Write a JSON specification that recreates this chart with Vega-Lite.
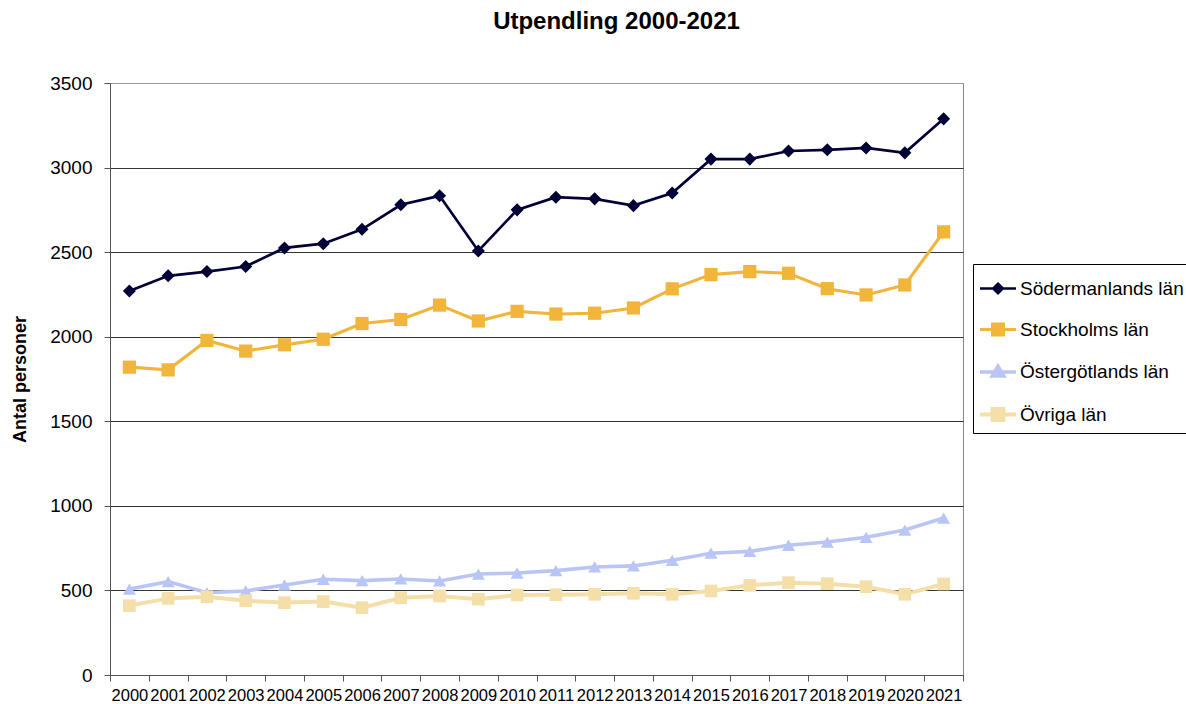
{
  "$schema": "https://vega.github.io/schema/vega-lite/v6.json",
  "width": 853,
  "height": 592,
  "autosize": {"type": "none"},
  "padding": {"left": 110, "top": 83, "right": 223, "bottom": 29},
  "background": "white",
  "config": {
    "font": "Liberation Sans",
    "view": {"stroke": "#888888", "strokeWidth": 1}
  },
  "title": {
    "text": "Utpendling 2000-2021",
    "fontSize": 24,
    "fontWeight": "bold",
    "font": "Liberation Sans",
    "color": "#000000",
    "anchor": "middle",
    "frame": "group",
    "baseline": "alphabetic",
    "offset": 21,
    "dx": 80
  },
  "data": {
    "values": [
      {"year": "2000", "series": "Södermanlands län", "value": 2270},
      {"year": "2001", "series": "Södermanlands län", "value": 2360},
      {"year": "2002", "series": "Södermanlands län", "value": 2385},
      {"year": "2003", "series": "Södermanlands län", "value": 2415},
      {"year": "2004", "series": "Södermanlands län", "value": 2525},
      {"year": "2005", "series": "Södermanlands län", "value": 2550},
      {"year": "2006", "series": "Södermanlands län", "value": 2635},
      {"year": "2007", "series": "Södermanlands län", "value": 2780},
      {"year": "2008", "series": "Södermanlands län", "value": 2833},
      {"year": "2009", "series": "Södermanlands län", "value": 2507},
      {"year": "2010", "series": "Södermanlands län", "value": 2750},
      {"year": "2011", "series": "Södermanlands län", "value": 2825},
      {"year": "2012", "series": "Södermanlands län", "value": 2815},
      {"year": "2013", "series": "Södermanlands län", "value": 2775},
      {"year": "2014", "series": "Södermanlands län", "value": 2850},
      {"year": "2015", "series": "Södermanlands län", "value": 3050},
      {"year": "2016", "series": "Södermanlands län", "value": 3050},
      {"year": "2017", "series": "Södermanlands län", "value": 3098},
      {"year": "2018", "series": "Södermanlands län", "value": 3105},
      {"year": "2019", "series": "Södermanlands län", "value": 3116},
      {"year": "2020", "series": "Södermanlands län", "value": 3087},
      {"year": "2021", "series": "Södermanlands län", "value": 3288},
      {"year": "2000", "series": "Stockholms län", "value": 1820},
      {"year": "2001", "series": "Stockholms län", "value": 1804},
      {"year": "2002", "series": "Stockholms län", "value": 1978},
      {"year": "2003", "series": "Stockholms län", "value": 1915},
      {"year": "2004", "series": "Stockholms län", "value": 1952},
      {"year": "2005", "series": "Stockholms län", "value": 1985},
      {"year": "2006", "series": "Stockholms län", "value": 2078},
      {"year": "2007", "series": "Stockholms län", "value": 2102},
      {"year": "2008", "series": "Stockholms län", "value": 2187},
      {"year": "2009", "series": "Stockholms län", "value": 2093},
      {"year": "2010", "series": "Stockholms län", "value": 2150},
      {"year": "2011", "series": "Stockholms län", "value": 2134},
      {"year": "2012", "series": "Stockholms län", "value": 2139},
      {"year": "2013", "series": "Stockholms län", "value": 2170},
      {"year": "2014", "series": "Stockholms län", "value": 2283},
      {"year": "2015", "series": "Stockholms län", "value": 2367},
      {"year": "2016", "series": "Stockholms län", "value": 2385},
      {"year": "2017", "series": "Stockholms län", "value": 2375},
      {"year": "2018", "series": "Stockholms län", "value": 2284},
      {"year": "2019", "series": "Stockholms län", "value": 2247},
      {"year": "2020", "series": "Stockholms län", "value": 2306},
      {"year": "2021", "series": "Stockholms län", "value": 2620},
      {"year": "2000", "series": "Östergötlands län", "value": 508},
      {"year": "2001", "series": "Östergötlands län", "value": 552},
      {"year": "2002", "series": "Östergötlands län", "value": 487},
      {"year": "2003", "series": "Östergötlands län", "value": 497},
      {"year": "2004", "series": "Östergötlands län", "value": 532},
      {"year": "2005", "series": "Östergötlands län", "value": 566},
      {"year": "2006", "series": "Östergötlands län", "value": 558},
      {"year": "2007", "series": "Östergötlands län", "value": 568},
      {"year": "2008", "series": "Östergötlands län", "value": 556},
      {"year": "2009", "series": "Östergötlands län", "value": 597},
      {"year": "2010", "series": "Östergötlands län", "value": 603},
      {"year": "2011", "series": "Östergötlands län", "value": 617},
      {"year": "2012", "series": "Östergötlands län", "value": 639},
      {"year": "2013", "series": "Östergötlands län", "value": 645},
      {"year": "2014", "series": "Östergötlands län", "value": 678},
      {"year": "2015", "series": "Östergötlands län", "value": 720},
      {"year": "2016", "series": "Östergötlands län", "value": 731},
      {"year": "2017", "series": "Östergötlands län", "value": 767},
      {"year": "2018", "series": "Östergötlands län", "value": 786},
      {"year": "2019", "series": "Östergötlands län", "value": 814},
      {"year": "2020", "series": "Östergötlands län", "value": 857},
      {"year": "2021", "series": "Östergötlands län", "value": 928},
      {"year": "2000", "series": "Övriga län", "value": 410},
      {"year": "2001", "series": "Övriga län", "value": 453},
      {"year": "2002", "series": "Övriga län", "value": 463},
      {"year": "2003", "series": "Övriga län", "value": 439},
      {"year": "2004", "series": "Övriga län", "value": 428},
      {"year": "2005", "series": "Övriga län", "value": 434},
      {"year": "2006", "series": "Övriga län", "value": 398},
      {"year": "2007", "series": "Övriga län", "value": 457},
      {"year": "2008", "series": "Övriga län", "value": 467},
      {"year": "2009", "series": "Övriga län", "value": 448},
      {"year": "2010", "series": "Övriga län", "value": 473},
      {"year": "2011", "series": "Övriga län", "value": 475},
      {"year": "2012", "series": "Övriga län", "value": 477},
      {"year": "2013", "series": "Övriga län", "value": 483},
      {"year": "2014", "series": "Övriga län", "value": 477},
      {"year": "2015", "series": "Övriga län", "value": 497},
      {"year": "2016", "series": "Övriga län", "value": 530},
      {"year": "2017", "series": "Övriga län", "value": 546},
      {"year": "2018", "series": "Övriga län", "value": 540},
      {"year": "2019", "series": "Övriga län", "value": 522},
      {"year": "2020", "series": "Övriga län", "value": 477},
      {"year": "2021", "series": "Övriga län", "value": 538}
    ]
  },
  "encoding": {
    "x": {
      "field": "year",
      "type": "ordinal",
      "scale": {"type": "band", "paddingInner": 0, "paddingOuter": 0},
      "axis": {
        "title": null,
        "labelAngle": 0,
        "labelFontSize": 16.5,
        "labelColor": "#000000",
        "labelOverlap": false,
        "labelPadding": 6,
        "tickBand": "extent",
        "tickSize": 6,
        "tickColor": "#555555",
        "domainColor": "#555555",
        "grid": false
      }
    },
    "y": {
      "field": "value",
      "type": "quantitative",
      "scale": {"domain": [0, 3500], "nice": false},
      "axis": {
        "values": [0, 500, 1000, 1500, 2000, 2500, 3000, 3500],
        "format": "d",
        "title": "Antal personer",
        "titleFontSize": 18,
        "titleFontWeight": "bold",
        "titleColor": "#000000",
        "titlePadding": 20,
        "labelFontSize": 19,
        "labelColor": "#000000",
        "labelPadding": 12,
        "tickSize": 6,
        "tickColor": "#555555",
        "domainColor": "#555555",
        "grid": true,
        "gridColor": {"condition": {"test": "datum.value === 3500", "value": "#999999"}, "value": "#333333"},
        "gridOpacity": 1
      }
    }
  },
  "layer": [
    {
      "mark": {"type": "line"},
      "encoding": {
        "color": {
          "field": "series",
          "type": "nominal",
          "scale": {
            "domain": ["Södermanlands län", "Stockholms län", "Östergötlands län", "Övriga län"],
            "range": ["#000036", "#F2B53C", "#B9C6F5", "#F5DFA8"]
          },
          "legend": {
            "title": null,
            "orient": "none",
            "legendX": 863,
            "legendY": 181,
            "strokeColor": "#000000",
            "fillColor": "#ffffff",
            "padding": 5,
            "labelFontSize": 19,
            "labelColor": "#000000",
            "labelOffset": 2,
            "labelLimit": 400,
            "rowPadding": 10.5,
            "symbolSize": 1296,
            "symbolType": {"expr": "datum.value === 'Södermanlands län' ? 'M-1,0H1M0,-0.26L0.26,0L0,0.26L-0.26,0Z' : datum.value === 'Östergötlands län' ? 'M-1,0H1M0,-0.32L0.32,0.22L-0.32,0.22Z' : 'M-1,0H1M-0.3,-0.3H0.3V0.3H-0.3Z'"},
            "symbolFillColor": {"expr": "scale('color', datum.value)"},
            "symbolStrokeWidth": {"expr": "datum.value === 'Södermanlands län' ? 2.5 : 4"},
            "symbolOpacity": 1
          }
        },
        "strokeWidth": {
          "field": "series",
          "type": "nominal",
          "scale": {
            "domain": ["Södermanlands län", "Stockholms län", "Östergötlands län", "Övriga län"],
            "range": [2.7, 4, 4.5, 4.5]
          },
          "legend": null
        }
      }
    },
    {
      "transform": [{"filter": "datum.series === 'Södermanlands län'"}],
      "mark": {"type": "point", "filled": true, "opacity": 1, "strokeWidth": 0, "shape": "diamond", "size": 170, "fill": "#000036"}
    },
    {
      "transform": [{"filter": "datum.series === 'Stockholms län'"}],
      "mark": {"type": "point", "filled": true, "opacity": 1, "strokeWidth": 0, "shape": "square", "size": 175, "fill": "#F2B53C"}
    },
    {
      "transform": [{"filter": "datum.series === 'Östergötlands län'"}],
      "mark": {"type": "point", "filled": true, "opacity": 1, "strokeWidth": 0, "shape": "triangle-up", "size": 170, "fill": "#B9C6F5"}
    },
    {
      "transform": [{"filter": "datum.series === 'Övriga län'"}],
      "mark": {"type": "point", "filled": true, "opacity": 1, "strokeWidth": 0, "shape": "square", "size": 160, "fill": "#F5DFA8"}
    }
  ]
}
